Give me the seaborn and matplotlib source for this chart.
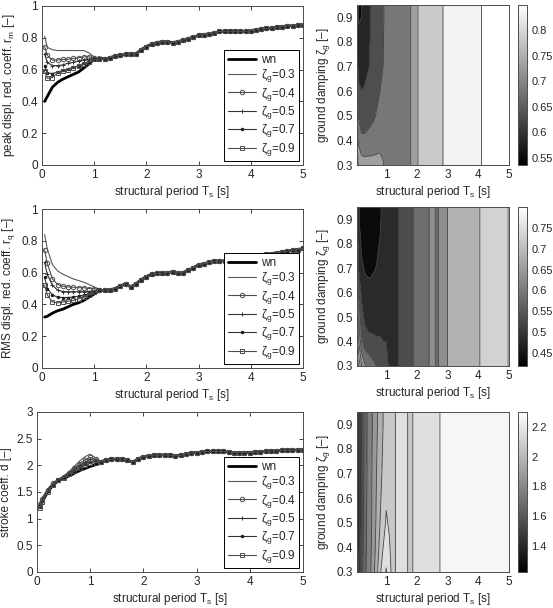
import numpy as np
import matplotlib
matplotlib.use('Agg')
import matplotlib.pyplot as plt
import seaborn as sns

sns.set_style('ticks')
plt.rcParams['font.family'] = ['Liberation Sans', 'DejaVu Sans']
plt.rcParams['mathtext.fontset'] = 'custom'
plt.rcParams['mathtext.rm'] = 'Liberation Sans'
plt.rcParams['mathtext.it'] = 'Liberation Sans:italic'
plt.rcParams['font.size'] = 8.5

# structural periods (s): low range differs per damping, tail is common
T_low = [0.05, 0.1, 0.2, 0.3, 0.4, 0.5, 0.6, 0.7, 0.8, 0.9, 1.0, 1.1]
T_tail = [1.2, 1.3, 1.4, 1.5, 1.6, 1.7, 1.8, 1.9, 2.0, 2.1, 2.2, 2.3, 2.4,
          2.5, 2.6, 2.7, 2.8, 2.9, 3.0, 3.1, 3.2, 3.3, 3.4, 3.5, 3.6, 3.7,
          3.8, 3.9, 4.0, 4.1, 4.2, 4.3, 4.4, 4.5, 4.6, 4.7, 4.8, 4.9, 5.0]
zeta_g = [0.3, 0.4, 0.5, 0.7, 0.9]
zeta_grid = [0.3, 0.4, 0.5, 0.7, 0.9, 0.95]

# peak displacement reduction coefficient r_m
rm_wn = [0.40, 0.43, 0.49, 0.52, 0.54, 0.555, 0.57, 0.585, 0.61, 0.635, 0.665, 0.675]
rm_z03 = [0.81, 0.74, 0.725, 0.72, 0.72, 0.72, 0.72, 0.72, 0.72, 0.705, 0.68, 0.67]
rm_z04 = [0.745, 0.69, 0.66, 0.66, 0.665, 0.665, 0.67, 0.675, 0.68, 0.68, 0.675, 0.665]
rm_z05 = [0.70, 0.645, 0.625, 0.625, 0.63, 0.64, 0.645, 0.655, 0.66, 0.665, 0.67, 0.665]
rm_z07 = [0.625, 0.58, 0.575, 0.585, 0.595, 0.605, 0.615, 0.625, 0.64, 0.65, 0.665, 0.665]
rm_z09 = [0.59, 0.545, 0.55, 0.58, 0.59, 0.60, 0.61, 0.62, 0.635, 0.645, 0.665, 0.665]
rm_tail = [0.665, 0.675, 0.685, 0.69, 0.695, 0.695, 0.70, 0.725, 0.745, 0.76,
           0.77, 0.775, 0.775, 0.77, 0.775, 0.785, 0.795, 0.805, 0.815, 0.82,
           0.825, 0.83, 0.84, 0.84, 0.84, 0.84, 0.84, 0.84, 0.845, 0.85,
           0.855, 0.86, 0.86, 0.865, 0.87, 0.875, 0.875, 0.88, 0.88]

# RMS displacement reduction coefficient r_q
rq_wn = [0.32, 0.325, 0.345, 0.36, 0.37, 0.385, 0.40, 0.41, 0.425, 0.445, 0.465, 0.485]
rq_z03 = [0.84, 0.75, 0.65, 0.61, 0.59, 0.575, 0.56, 0.55, 0.54, 0.525, 0.51, 0.495]
rq_z04 = [0.745, 0.66, 0.56, 0.525, 0.515, 0.51, 0.508, 0.505, 0.505, 0.50, 0.50, 0.49]
rq_z05 = [0.665, 0.59, 0.52, 0.49, 0.48, 0.48, 0.48, 0.48, 0.48, 0.48, 0.485, 0.49]
rq_z07 = [0.57, 0.50, 0.46, 0.445, 0.443, 0.443, 0.447, 0.452, 0.458, 0.466, 0.48, 0.49]
rq_z09 = [0.52, 0.46, 0.415, 0.41, 0.415, 0.42, 0.425, 0.435, 0.445, 0.46, 0.475, 0.49]
rq_tail = [0.49, 0.49, 0.50, 0.515, 0.53, 0.51, 0.53, 0.555, 0.575, 0.59,
           0.595, 0.595, 0.60, 0.605, 0.60, 0.60, 0.615, 0.63, 0.65, 0.655,
           0.665, 0.67, 0.67, 0.675, 0.675, 0.68, 0.685, 0.69, 0.695, 0.705,
           0.71, 0.715, 0.72, 0.725, 0.73, 0.735, 0.74, 0.745, 0.752]

# stroke coefficient d
d_wn = [1.22, 1.32, 1.50, 1.63, 1.71, 1.76, 1.80, 1.85, 1.90, 1.94, 1.98, 2.01]
d_z03 = [1.30, 1.40, 1.56, 1.67, 1.74, 1.80, 1.88, 1.98, 2.08, 2.16, 2.21, 2.14]
d_z04 = [1.27, 1.37, 1.54, 1.66, 1.73, 1.79, 1.86, 1.95, 2.03, 2.10, 2.15, 2.11]
d_z05 = [1.25, 1.35, 1.53, 1.65, 1.73, 1.78, 1.85, 1.93, 2.00, 2.06, 2.11, 2.09]
d_z07 = [1.22, 1.33, 1.51, 1.64, 1.72, 1.78, 1.84, 1.91, 1.97, 2.02, 2.07, 2.07]
d_z09 = [1.20, 1.31, 1.50, 1.63, 1.72, 1.77, 1.83, 1.89, 1.95, 2.00, 2.04, 2.05]
d_tail = [2.07, 2.10, 2.11, 2.12, 2.12, 2.10, 2.06, 2.12, 2.16, 2.18, 2.19,
          2.19, 2.195, 2.19, 2.18, 2.19, 2.21, 2.23, 2.24, 2.25, 2.26, 2.26,
          2.26, 2.26, 2.25, 2.24, 2.24, 2.24, 2.24, 2.25, 2.25, 2.26, 2.27,
          2.27, 2.28, 2.28, 2.28, 2.29, 2.29]

T = np.array(T_low + T_tail)

panels = [
    dict(series=[rm_wn, rm_z03, rm_z04, rm_z05, rm_z07, rm_z09], tail=rm_tail,
         ylabel='peak displ. red. coeff. r$_\\mathrm{m}$ [–]', ylim=(0, 1),
         yticks=[0, 0.2, 0.4, 0.6, 0.8, 1], yfmt=['0', '0.2', '0.4', '0.6', '0.8', '1'],
         levels=[0.55, 0.6, 0.65, 0.7, 0.75, 0.8, 0.85], clim=(0.536, 0.849),
         cticks=[0.55, 0.6, 0.65, 0.7, 0.75, 0.8]),
    dict(series=[rq_wn, rq_z03, rq_z04, rq_z05, rq_z07, rq_z09], tail=rq_tail,
         ylabel='RMS displ. red. coeff. r$_\\mathrm{q}$ [–]', ylim=(0, 1),
         yticks=[0, 0.2, 0.4, 0.6, 0.8, 1], yfmt=['0', '0.2', '0.4', '0.6', '0.8', '1'],
         levels=[0.45, 0.5, 0.55, 0.6, 0.65, 0.7, 0.75], clim=(0.419, 0.80),
         cticks=[0.45, 0.5, 0.55, 0.6, 0.65, 0.7, 0.75]),
    dict(series=[d_wn, d_z03, d_z04, d_z05, d_z07, d_z09], tail=d_tail,
         ylabel='stroke coeff. d [–]', ylim=(0, 3),
         yticks=[0, 0.5, 1, 1.5, 2, 2.5, 3], yfmt=['0', '0.5', '1', '1.5', '2', '2.5', '3'],
         levels=[1.3, 1.4, 1.5, 1.6, 1.7, 1.8, 1.9, 2.0, 2.1, 2.2, 2.3], clim=(1.225, 2.30),
         cticks=[1.4, 1.6, 1.8, 2.0, 2.2]),
]

labels = ['wn'] + ['ζ$_\\mathrm{g}$=%.1f' % z for z in zeta_g]
line_kw = [
    dict(color='k', lw=2.0),
    dict(color='0.35', lw=0.8),
    dict(color='0.3', lw=0.8, marker='o', ms=3.2, mfc='none', mec='0.3', mew=0.7),
    dict(color='0.2', lw=0.8, marker='+', ms=3.5, mec='0.2', mew=0.7),
    dict(color='0.2', lw=0.8, marker='.', ms=4, mfc='0.1', mec='0.1', mew=0.5),
    dict(color='0.3', lw=0.8, marker='s', ms=3, mfc='none', mec='0.3', mew=0.7),
]

W, H = 553, 608
fig = plt.figure(figsize=(W / 100, H / 100), dpi=100)


def box(x0, y0, x1, y1):
    return [x0 / W, 1 - y1 / H, (x1 - x0) / W, (y1 - y0) / H]


rows = [(6, 165, 42), (209, 368, 42), (412, 572, 37)]
crows = [(5, 165), (207, 366), (412, 572)]

cmap = plt.get_cmap('gray')
for p, (y0, y1, xl), (cy0, cy1) in zip(panels, rows, crows):
    # line chart
    ax = fig.add_axes(box(xl, y0, 303, y1))
    full = [s + p['tail'] for s in p['series']]
    for vals, lab, kw in zip(full, labels, line_kw):
        sns.lineplot(x=T, y=vals, ax=ax, label=lab, **kw)
    ax.set_xlim(0, 5)
    ax.set_ylim(*p['ylim'])
    ax.set_yticks(p['yticks'])
    ax.set_yticklabels(p['yfmt'])
    ax.set_xticks([0, 1, 2, 3, 4, 5])
    ax.set_xlabel('structural period T$_\\mathrm{s}$ [s]', labelpad=2)
    ax.set_ylabel(p['ylabel'], labelpad=3)
    ax.tick_params(direction='in', top=True, right=True, length=3, width=0.6, pad=3)
    for s in ax.spines.values():
        s.set_linewidth(0.7)
        s.set_color('0.3')
    leg = ax.legend(loc='lower right', fontsize=8.5, handlelength=2.4,
                    labelspacing=0.12, borderaxespad=0.3, borderpad=0.3,
                    fancybox=False, framealpha=1, edgecolor='k', handletextpad=0.4)
    leg.get_frame().set_linewidth(0.7)

    # contour map over period and ground damping
    cax_ = fig.add_axes(box(357, cy0, 509, cy1))
    rows_z = [s for s in full[1:]] + [full[-1]]
    Z = np.array(rows_z)
    norm = plt.Normalize(*p['clim'])
    lv_in = [l for l in p['levels'] if Z.min() < l < Z.max()]
    lv = [min(Z.min(), p['clim'][0]) - 1e-6] + lv_in + [Z.max() + 1e-6]
    # band shade taken from the colour scale, a bit above each band's lower level
    colors = [cmap(float(np.clip(norm(a + 0.65 * (b - a)), 0, 1)))
              for a, b in zip(lv[:-1], lv[1:])]
    cax_.contourf(T, zeta_grid, Z, levels=lv, colors=colors)
    cax_.contour(T, zeta_grid, Z, levels=lv_in, colors='0.25', linewidths=0.6)
    cax_.set_xlim(0.05, 5)
    cax_.set_ylim(0.3, 0.95)
    cax_.set_xticks([1, 2, 3, 4, 5])
    cax_.set_yticks([0.3, 0.4, 0.5, 0.6, 0.7, 0.8, 0.9])
    cax_.set_yticklabels(['0.3', '0.4', '0.5', '0.6', '0.7', '0.8', '0.9'])
    cax_.set_xlabel('structural period T$_\\mathrm{s}$ [s]', labelpad=2)
    cax_.set_ylabel('ground damping ζ$_\\mathrm{g}$ [–]', labelpad=3)
    cax_.tick_params(direction='in', top=True, right=True, length=3, width=0.6, pad=3)
    for s in cax_.spines.values():
        s.set_linewidth(0.7)
        s.set_color('0.3')

    # colorbar
    cb_ax = fig.add_axes(box(518, cy0, 527, cy1))
    sm = matplotlib.cm.ScalarMappable(norm=norm, cmap=cmap)
    cb = fig.colorbar(sm, cax=cb_ax, ticks=p['cticks'])
    cb.ax.set_yticklabels(['%g' % t for t in p['cticks']])
    cb.ax.tick_params(direction='in', length=2.5, width=0.6, labelsize=8, pad=3)
    cb.outline.set_linewidth(0.7)
    cb.outline.set_edgecolor('0.3')

fig.savefig('out.png', dpi=100)
